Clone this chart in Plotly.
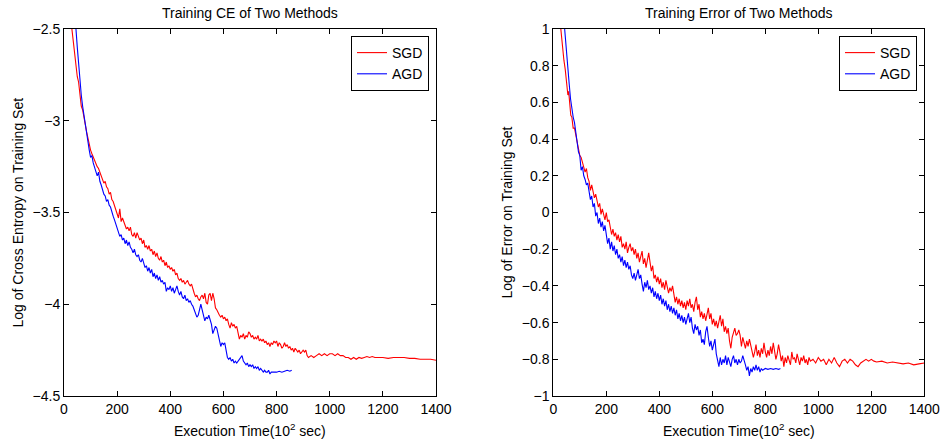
import plotly.graph_objects as go

# ---------------- data: Training CE (left panel) ----------------
sgd_ce_x = [25, 30, 35, 40, 45, 50, 55, 60, 65, 70, 75, 80, 85, 90, 95, 100, 105, 110, 115, 120,
            125, 130, 135, 140, 145, 150, 155, 160, 165, 170, 175, 180, 185, 190, 195, 200, 205, 210,
            215, 220, 225, 230, 235, 240, 245, 250, 255, 260, 265, 270, 275, 280, 285, 290, 295, 300,
            305, 310, 315, 320, 325, 330, 335, 340, 345, 350, 355, 360, 365, 370, 375, 380, 385, 390,
            395, 400, 405, 410, 415, 420, 425, 430, 435, 440, 445, 450, 455, 460, 465, 470, 475, 480,
            485, 490, 495, 500, 505, 510, 515, 520, 525, 530, 535, 540, 545, 550, 555, 560, 565, 570,
            575, 580, 585, 590, 595, 600, 605, 610, 615, 620, 625, 630, 635, 640, 645, 650, 655, 660,
            665, 670, 675, 680, 685, 690, 695, 700, 705, 710, 715, 720, 725, 730, 735, 740, 745, 750,
            755, 760, 765, 770, 775, 780, 785, 790, 795, 800, 805, 810, 815, 820, 825, 830, 835, 840,
            845, 850, 855, 860, 865, 870, 875, 880, 885, 890, 895, 900, 905, 910, 915, 920, 930, 940,
            950, 960, 970, 980, 990, 1000, 1010, 1020, 1030, 1040, 1050, 1060, 1070, 1080, 1090, 1100,
            1110, 1120, 1130, 1140, 1150, 1160, 1170, 1180, 1200, 1220, 1240, 1260, 1280, 1300, 1320,
            1340, 1360, 1380, 1400]
sgd_ce_y = [-2.44, -2.50, -2.58, -2.65, -2.70, -2.76, -2.79, -2.86, -2.92, -2.94, -2.99, -3.02, -3.06,
            -3.10, -3.14, -3.16, -3.18, -3.20, -3.21, -3.23, -3.25, -3.26, -3.28, -3.30, -3.31, -3.34,
            -3.33, -3.36, -3.37, -3.40, -3.39, -3.43, -3.44, -3.46, -3.48, -3.50, -3.53, -3.48, -3.55,
            -3.53, -3.55, -3.57, -3.59, -3.58, -3.60, -3.58, -3.62, -3.63, -3.61, -3.64, -3.61, -3.63,
            -3.65, -3.64, -3.67, -3.65, -3.69, -3.68, -3.70, -3.68, -3.71, -3.70, -3.73, -3.71, -3.74,
            -3.72, -3.75, -3.76, -3.74, -3.77, -3.76, -3.79, -3.77, -3.80, -3.79, -3.81, -3.80, -3.82,
            -3.81, -3.84, -3.83, -3.86, -3.87, -3.86, -3.88, -3.87, -3.89, -3.88, -3.87, -3.89, -3.90,
            -3.89, -3.92, -3.94, -3.96, -3.95, -3.97, -3.98, -3.96, -3.95, -3.97, -3.94, -3.99, -4.00,
            -3.95, -3.94, -3.98, -3.94, -3.97, -4.02, -4.03, -4.05, -4.06, -4.07, -4.06, -4.08, -4.07,
            -4.09, -4.08, -4.11, -4.13, -4.10, -4.12, -4.11, -4.13, -4.12, -4.15, -4.19, -4.17, -4.18,
            -4.16, -4.19, -4.17, -4.18, -4.15, -4.16, -4.18, -4.17, -4.19, -4.18, -4.19, -4.17, -4.20,
            -4.19, -4.20, -4.19, -4.21, -4.20, -4.22, -4.21, -4.23, -4.21, -4.22, -4.20, -4.21, -4.20,
            -4.23, -4.21, -4.22, -4.24, -4.23, -4.21, -4.23, -4.22, -4.24, -4.23, -4.25, -4.24, -4.26,
            -4.24, -4.25, -4.26, -4.25, -4.27, -4.26, -4.25, -4.26, -4.25, -4.28, -4.29, -4.28, -4.29,
            -4.28, -4.27, -4.28, -4.27, -4.28, -4.27, -4.27, -4.28, -4.27, -4.28, -4.28, -4.29, -4.29,
            -4.30, -4.29, -4.30, -4.29, -4.295, -4.29, -4.285, -4.29, -4.285, -4.29, -4.29, -4.29,
            -4.295, -4.29, -4.29, -4.29, -4.295, -4.295, -4.30, -4.30, -4.30, -4.305]

agd_ce_x = [40, 45, 50, 55, 60, 65, 70, 75, 80, 85, 90, 95, 100, 105, 110, 115, 120, 125, 130, 135,
            140, 145, 150, 155, 160, 165, 170, 175, 180, 185, 190, 195, 200, 205, 210, 215, 220, 225,
            230, 235, 240, 245, 250, 255, 260, 265, 270, 275, 280, 285, 290, 295, 300, 305, 310, 315,
            320, 325, 330, 335, 340, 345, 350, 355, 360, 365, 370, 375, 380, 385, 390, 395, 400, 405,
            410, 415, 420, 425, 430, 435, 440, 445, 450, 455, 460, 465, 470, 475, 480, 485, 490, 495,
            500, 505, 510, 515, 520, 525, 530, 535, 540, 545, 550, 555, 560, 565, 570, 575, 580, 585,
            590, 595, 600, 605, 610, 615, 620, 625, 630, 635, 640, 645, 650, 655, 660, 665, 670, 675,
            680, 685, 690, 695, 700, 705, 710, 715, 720, 725, 730, 735, 740, 745, 750, 755, 760, 765,
            770, 775, 780, 790, 800, 810, 820, 830, 840, 850, 857]
agd_ce_y = [-2.44, -2.50, -2.60, -2.70, -2.78, -2.86, -2.92, -2.97, -3.03, -3.08, -3.12, -3.16, -3.20,
            -3.19, -3.23, -3.25, -3.27, -3.30, -3.28, -3.33, -3.35, -3.38, -3.40, -3.41, -3.44, -3.43,
            -3.46, -3.47, -3.50, -3.52, -3.54, -3.56, -3.58, -3.61, -3.63, -3.62, -3.65, -3.64, -3.67,
            -3.65, -3.68, -3.66, -3.69, -3.70, -3.72, -3.70, -3.73, -3.74, -3.73, -3.76, -3.77, -3.75,
            -3.78, -3.80, -3.79, -3.82, -3.80, -3.83, -3.81, -3.85, -3.83, -3.86, -3.84, -3.87, -3.85,
            -3.88, -3.87, -3.89, -3.88, -3.93, -3.91, -3.92, -3.90, -3.93, -3.91, -3.94, -3.92, -3.90,
            -3.93, -3.95, -3.93, -3.96, -3.97, -3.95, -3.98, -3.97, -3.99, -3.98, -4.00, -4.01, -4.03,
            -4.05, -4.07, -4.06, -4.02, -4.00, -4.03, -4.06, -4.09, -4.07, -4.08, -4.06, -4.08, -4.11,
            -4.16, -4.14, -4.12, -4.13, -4.17, -4.20, -4.23, -4.21, -4.22, -4.21, -4.25, -4.29, -4.30,
            -4.29, -4.31, -4.30, -4.32, -4.31, -4.32, -4.31, -4.30, -4.29, -4.28, -4.31, -4.32, -4.33,
            -4.32, -4.34, -4.33, -4.34, -4.33, -4.35, -4.34, -4.35, -4.34, -4.36, -4.35, -4.36, -4.37,
            -4.36, -4.37, -4.37, -4.36, -4.38, -4.37, -4.37, -4.37, -4.365, -4.37, -4.365, -4.36,
            -4.365, -4.36]

# ---------------- data: Training Error (right panel) ----------------
sgd_err_x = [25, 30, 35, 40, 45, 50, 55, 58, 62, 66, 70, 75, 80, 85, 90, 95, 100, 105, 110, 115, 120,
             125, 130, 135, 140, 145, 150, 155, 160, 165, 170, 175, 180, 185, 190, 195, 200, 205, 210,
             215, 220, 225, 230, 235, 240, 245, 250, 255, 260, 265, 270, 275, 280, 285, 290, 295, 300,
             305, 310, 315, 320, 325, 330, 335, 340, 345, 350, 355, 360, 365, 370, 375, 380, 385, 390,
             395, 400, 405, 410, 415, 420, 425, 430, 435, 440, 445, 450, 455, 460, 465, 470, 475, 480,
             485, 490, 495, 500, 505, 510, 515, 520, 525, 530, 535, 540, 545, 550, 555, 560, 565, 570,
             575, 580, 585, 590, 595, 600, 605, 610, 615, 620, 625, 630, 635, 640, 645, 650, 655, 660,
             665, 670, 675, 680, 685, 690, 695, 700, 705, 710, 715, 720, 725, 730, 735, 740, 745, 750,
             755, 760, 765, 770, 775, 780, 785, 790, 795, 800, 805, 810, 815, 820, 825, 830, 835, 840,
             845, 850, 855, 860, 865, 870, 875, 880, 885, 890, 895, 900, 905, 910, 915, 920, 925, 930,
             935, 940, 945, 950, 955, 960, 965, 970, 980, 990, 1000, 1010, 1020, 1030, 1040, 1050,
             1060, 1070, 1080, 1090, 1100, 1110, 1120, 1130, 1140, 1150, 1160, 1170, 1180, 1190, 1200,
             1210, 1220, 1240, 1260, 1280, 1300, 1320, 1340, 1360, 1380, 1400]
sgd_err_y = [1.05, 0.97, 0.90, 0.83, 0.78, 0.72, 0.64, 0.66, 0.58, 0.53, 0.52, 0.46, 0.46, 0.42, 0.39,
             0.36, 0.31, 0.30, 0.27, 0.25, 0.22, 0.24, 0.19, 0.17, 0.12, 0.15, 0.11, 0.08, 0.10, 0.06,
             0.03, 0.05, -0.01, 0.02, -0.02, -0.04, 0.00, -0.05, -0.04, -0.08, -0.12, -0.09, -0.13,
             -0.11, -0.15, -0.12, -0.16, -0.13, -0.19, -0.17, -0.20, -0.16, -0.22, -0.19, -0.17, -0.21,
             -0.19, -0.23, -0.20, -0.25, -0.22, -0.27, -0.24, -0.21, -0.28, -0.25, -0.30, -0.26, -0.22,
             -0.27, -0.32, -0.29, -0.36, -0.34, -0.38, -0.35, -0.39, -0.36, -0.41, -0.38, -0.42, -0.37,
             -0.40, -0.44, -0.41, -0.43, -0.40, -0.45, -0.49, -0.46, -0.50, -0.47, -0.51, -0.48, -0.52,
             -0.49, -0.53, -0.48, -0.51, -0.47, -0.52, -0.50, -0.54, -0.49, -0.46, -0.53, -0.50, -0.57,
             -0.54, -0.58, -0.55, -0.59, -0.56, -0.52, -0.58, -0.55, -0.61, -0.58, -0.62, -0.59, -0.63,
             -0.60, -0.56, -0.62, -0.58, -0.65, -0.62, -0.66, -0.63, -0.70, -0.74, -0.68, -0.65, -0.63,
             -0.67, -0.66, -0.64, -0.67, -0.73, -0.68, -0.71, -0.74, -0.70, -0.73, -0.69, -0.72, -0.75,
             -0.79, -0.76, -0.72, -0.78, -0.75, -0.79, -0.74, -0.77, -0.71, -0.76, -0.79, -0.75, -0.78,
             -0.73, -0.77, -0.71, -0.76, -0.80, -0.77, -0.72, -0.76, -0.81, -0.78, -0.84, -0.79, -0.82,
             -0.78, -0.80, -0.83, -0.76, -0.80, -0.79, -0.82, -0.77, -0.80, -0.83, -0.79, -0.81, -0.78,
             -0.82, -0.80, -0.83, -0.79, -0.81, -0.80, -0.82, -0.79, -0.81, -0.80, -0.83, -0.80, -0.82,
             -0.79, -0.82, -0.84, -0.81, -0.80, -0.82, -0.80, -0.81, -0.83, -0.84, -0.82, -0.81, -0.80,
             -0.81, -0.80, -0.81, -0.815, -0.81, -0.82, -0.815, -0.82, -0.825, -0.82, -0.83, -0.825,
             -0.82]

agd_err_x = [40, 45, 50, 55, 60, 65, 70, 75, 80, 85, 90, 95, 100, 105, 110, 115, 120, 125, 130, 135,
             140, 145, 150, 155, 160, 165, 170, 175, 180, 185, 190, 195, 200, 205, 210, 215, 220, 225,
             230, 235, 240, 245, 250, 255, 260, 265, 270, 275, 280, 285, 290, 295, 300, 305, 310, 315,
             320, 325, 330, 335, 340, 345, 350, 355, 360, 365, 370, 375, 380, 385, 390, 395, 400, 405,
             410, 415, 420, 425, 430, 435, 440, 445, 450, 455, 460, 465, 470, 475, 480, 485, 490, 495,
             500, 505, 510, 515, 520, 525, 530, 535, 540, 545, 550, 555, 560, 565, 570, 575, 580, 585,
             590, 595, 600, 605, 610, 615, 620, 625, 630, 635, 640, 645, 650, 655, 660, 665, 670, 675,
             680, 685, 690, 695, 700, 705, 710, 715, 720, 725, 730, 735, 740, 745, 750, 755, 760, 765,
             770, 775, 780, 785, 790, 800, 810, 820, 830, 840, 850, 857]
agd_err_y = [1.05, 0.95, 0.87, 0.78, 0.70, 0.62, 0.56, 0.52, 0.49, 0.44, 0.38, 0.33, 0.31, 0.23, 0.25,
             0.20, 0.18, 0.15, 0.16, 0.10, 0.07, 0.09, 0.03, 0.05, -0.02, 0.00, -0.06, -0.03, -0.08,
             -0.05, -0.10, -0.07, -0.12, -0.17, -0.14, -0.20, -0.16, -0.21, -0.18, -0.23, -0.20, -0.25,
             -0.23, -0.27, -0.24, -0.29, -0.26, -0.30, -0.27, -0.31, -0.29, -0.34, -0.36, -0.33, -0.37,
             -0.34, -0.31, -0.36, -0.34, -0.39, -0.43, -0.38, -0.41, -0.37, -0.42, -0.40, -0.44, -0.41,
             -0.46, -0.43, -0.47, -0.44, -0.48, -0.45, -0.50, -0.47, -0.51, -0.48, -0.53, -0.50, -0.54,
             -0.51, -0.55, -0.52, -0.56, -0.53, -0.58, -0.55, -0.59, -0.56, -0.60, -0.57, -0.61, -0.58,
             -0.55, -0.60, -0.57, -0.63, -0.66, -0.61, -0.64, -0.62, -0.67, -0.64, -0.71, -0.69, -0.72,
             -0.65, -0.62, -0.68, -0.73, -0.70, -0.75, -0.72, -0.69, -0.77, -0.80, -0.84, -0.79, -0.83,
             -0.80, -0.82, -0.78, -0.83, -0.79, -0.81, -0.84, -0.80, -0.78, -0.82, -0.80, -0.83, -0.80,
             -0.82, -0.81, -0.78, -0.80, -0.83, -0.86, -0.84, -0.89, -0.85, -0.87, -0.84, -0.86, -0.83,
             -0.86, -0.84, -0.87, -0.85, -0.86, -0.85, -0.855, -0.85, -0.855, -0.85, -0.855, -0.85]

series_names = ["SGD", "AGD"]
panel_titles = ["Training CE of Two Methods", "Training Error of Two Methods"]
x_label = "Execution Time(10<sup>2</sup> sec)"
y_labels = ["Log of Cross Entropy on Training Set", "Log of Error on Training Set"]
x_ticks = [0, 200, 400, 600, 800, 1000, 1200, 1400]
y_ticks_ce = [-4.5, -4.0, -3.5, -3.0, -2.5]
y_ticktext_ce = ["\u22124.5", "\u22124", "\u22123.5", "\u22123", "\u22122.5"]
y_ticks_err = [-1, -0.8, -0.6, -0.4, -0.2, 0, 0.2, 0.4, 0.6, 0.8, 1]
y_ticktext_err = ["\u22121", "\u22120.8", "\u22120.6", "\u22120.4", "\u22120.2", "0",
                  "0.2", "0.4", "0.6", "0.8", "1"]

RED = "#ff0000"
BLUE = "#0000ff"
FONT = "Liberation Sans, Arial, Helvetica, sans-serif"

W, H = 941, 440
dom_x1 = [64 / W, 436 / W]
dom_x2 = [553.3 / W, 924.3 / W]
dom_y = [1 - 396 / H, 1 - 29 / H]

fig = go.Figure()
fig.add_trace(go.Scatter(x=sgd_ce_x, y=sgd_ce_y, mode="lines", name=series_names[0],
                         line=dict(color=RED, width=1.1), xaxis="x", yaxis="y", legend="legend"))
fig.add_trace(go.Scatter(x=agd_ce_x, y=agd_ce_y, mode="lines", name=series_names[1],
                         line=dict(color=BLUE, width=1.1), xaxis="x", yaxis="y", legend="legend"))
fig.add_trace(go.Scatter(x=sgd_err_x, y=sgd_err_y, mode="lines", name=series_names[0],
                         line=dict(color=RED, width=1.1), xaxis="x2", yaxis="y2", legend="legend2"))
fig.add_trace(go.Scatter(x=agd_err_x, y=agd_err_y, mode="lines", name=series_names[1],
                         line=dict(color=BLUE, width=1.1), xaxis="x2", yaxis="y2", legend="legend2"))

axis_common = dict(showline=True, linecolor="black", linewidth=1, mirror="ticks",
                   ticks="inside", ticklen=5, tickcolor="black", tickwidth=1,
                   showgrid=False, zeroline=False, automargin=False,
                   tickfont=dict(family=FONT, size=14, color="black"))

legend_common = dict(bgcolor="white", bordercolor="black", borderwidth=1,
                     font=dict(family=FONT, size=14, color="black"),
                     xanchor="right", yanchor="top", tracegroupgap=0,
                     itemwidth=30)

fig.update_layout(
    template="none",
    width=W, height=H,
    margin=dict(l=0, r=0, t=0, b=0, pad=0, autoexpand=False),
    paper_bgcolor="white", plot_bgcolor="white",
    font=dict(family=FONT, size=14, color="black"),
    xaxis=dict(domain=dom_x1, range=[0, 1400], tickvals=x_ticks, anchor="y", **axis_common),
    yaxis=dict(domain=dom_y, range=[-4.5, -2.5], tickvals=y_ticks_ce, ticktext=y_ticktext_ce,
               anchor="x", **axis_common),
    xaxis2=dict(domain=dom_x2, range=[0, 1400], tickvals=x_ticks, anchor="y2", **axis_common),
    yaxis2=dict(domain=dom_y, range=[-1, 1], tickvals=y_ticks_err, ticktext=y_ticktext_err,
                anchor="x2", **axis_common),
    legend=dict(x=429 / W, y=1 - 36 / H, **legend_common),
    legend2=dict(x=917 / W, y=1 - 36 / H, **legend_common),
    showlegend=True,
)

annotations = []
for i, dom in enumerate([dom_x1, dom_x2]):
    cx = (dom[0] + dom[1]) / 2
    annotations.append(dict(text=panel_titles[i], x=cx, y=1 - 13 / H, xref="paper", yref="paper",
                            xanchor="center", yanchor="middle", showarrow=False,
                            font=dict(family=FONT, size=14, color="black")))
    annotations.append(dict(text=x_label, x=cx, y=1 - 430 / H, xref="paper", yref="paper",
                            xanchor="center", yanchor="middle", showarrow=False,
                            font=dict(family=FONT, size=14, color="black")))
y_label_x = [18 / W, 507 / W]
for i in range(2):
    annotations.append(dict(text=y_labels[i], x=y_label_x[i], y=(dom_y[0] + dom_y[1]) / 2,
                            xref="paper", yref="paper", xanchor="center", yanchor="middle",
                            textangle=-90, showarrow=False,
                            font=dict(family=FONT, size=14, color="black")))
fig.update_layout(annotations=annotations)

fig.write_html("out.html",
               post_script="document.body.style.margin='0';document.body.style.overflow='hidden';")
